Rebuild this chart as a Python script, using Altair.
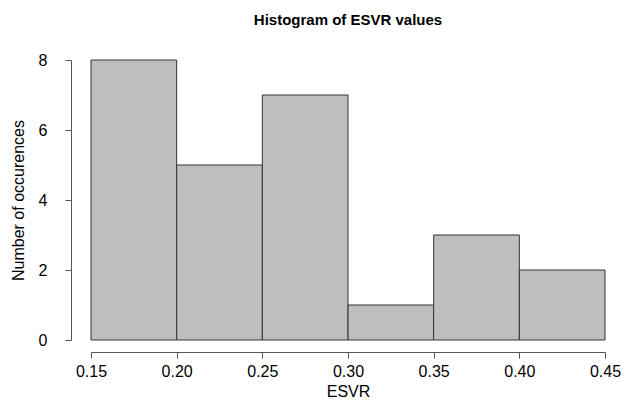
import altair as alt
import pandas as pd

bin_start = [0.15, 0.20, 0.25, 0.30, 0.35, 0.40]
bin_end = [0.20, 0.25, 0.30, 0.35, 0.40, 0.45]
counts = [8, 5, 7, 1, 3, 2]
x_ticks = [0.15, 0.20, 0.25, 0.30, 0.35, 0.40, 0.45]
y_ticks = [0, 2, 4, 6, 8]

df = pd.DataFrame({"start": bin_start, "end": bin_end, "count": counts,
                   "base": [0] * len(counts)})

FONT = "Liberation Sans"
AXIS_COLOR = "#555555"

chart = alt.Chart(df).mark_rect(
    fill="#BEBEBE", stroke="#333333", strokeWidth=1
).encode(
    x=alt.X("start:Q",
            scale=alt.Scale(domain=[0.15, 0.45], nice=False, zero=False),
            axis=alt.Axis(title="ESVR", values=x_ticks, format=".2f",
                          offset=12, tickSize=6, labelPadding=5,
                          titlePadding=4, grid=False)),
    x2="end:Q",
    y=alt.Y("count:Q",
            scale=alt.Scale(domain=[0, 8], nice=False),
            axis=alt.Axis(title="Number of occurences", values=y_ticks,
                          offset=20, tickSize=6, labelPadding=18,
                          titlePadding=12, grid=False)),
    y2="base:Q",
).properties(
    width=514,
    height=280,
    title=alt.TitleParams("Histogram of ESVR values", font=FONT, fontSize=15,
                          fontWeight="bold", anchor="middle", offset=24,
                          color="#000000"),
    padding={"left": 83, "top": 52, "right": 16, "bottom": 66},
    autosize=alt.AutoSizeParams(type="none"),
).configure_view(
    stroke=None
).configure_axis(
    labelFont=FONT, titleFont=FONT, labelFontSize=16, titleFontSize=16,
    labelColor="#000000", titleColor="#000000", titleFontWeight="normal",
    domainColor=AXIS_COLOR, tickColor=AXIS_COLOR, domainWidth=1, tickWidth=1,
    labelFlush=False
).configure_axisY(
    labelAngle=0
)

chart.save("out.html", embed_options={"renderer": "svg", "actions": False})
